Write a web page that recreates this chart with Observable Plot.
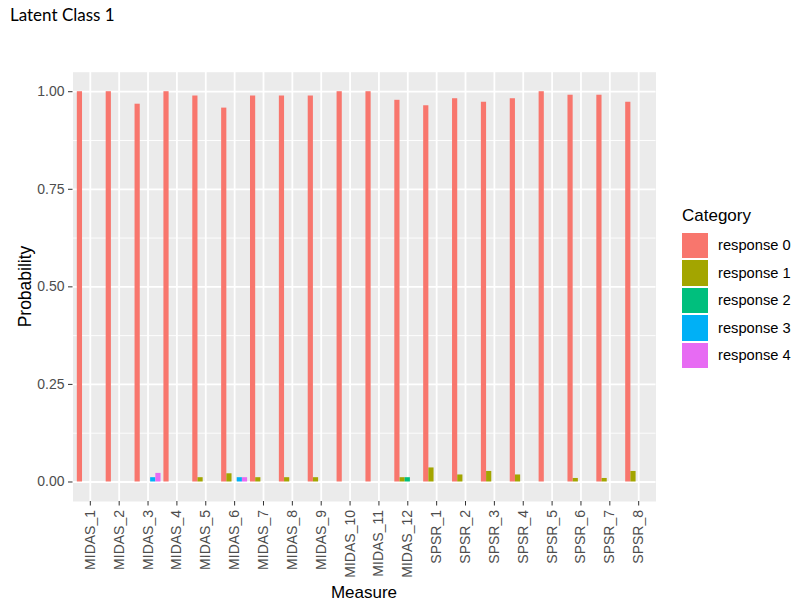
<!DOCTYPE html>
<html>
<head>
<meta charset="utf-8">
<script src="https://cdn.jsdelivr.net/npm/d3@7"></script>
<script src="https://cdn.jsdelivr.net/npm/@observablehq/plot@0.6"></script>
<style>
  html, body { margin: 0; padding: 0; background: #ffffff; }
  #wrap { position: relative; width: 800px; height: 605px; overflow: hidden; font-family: "Liberation Sans", Arial, sans-serif; }
  #wrap svg { position: absolute; left: 0; top: 0; }
  .abs { position: absolute; line-height: 1; white-space: nowrap; }
</style>
</head>
<body>
<div id="wrap"></div>
<script>
// ---------------- data ----------------
const measures = ["MIDAS_1","MIDAS_2","MIDAS_3","MIDAS_4","MIDAS_5","MIDAS_6","MIDAS_7","MIDAS_8","MIDAS_9","MIDAS_10","MIDAS_11","MIDAS_12",
                  "SPSR_1","SPSR_2","SPSR_3","SPSR_4","SPSR_5","SPSR_6","SPSR_7","SPSR_8"];
const categories = ["response 0","response 1","response 2","response 3","response 4"];
const colors = ["#F8766D","#A3A500","#00BF7D","#00B0F6","#E76BF3"];

const response0 = [1.000, 1.000, 0.968, 1.000, 0.989, 0.958, 0.989, 0.989, 0.989, 1.000, 1.000, 0.978, 0.964, 0.982, 0.973, 0.982, 1.000, 0.991, 0.991, 0.973];
const response1 = [0, 0, 0, 0, 0.011, 0.021, 0.011, 0.011, 0.011, 0, 0, 0.011, 0.036, 0.018, 0.027, 0.018, 0, 0.009, 0.009, 0.027];
const response2 = [0, 0, 0, 0, 0, 0, 0, 0, 0, 0, 0, 0.011, 0, 0, 0, 0, 0, 0, 0, 0];
const response3 = [0, 0, 0.011, 0, 0, 0.011, 0, 0, 0, 0, 0, 0, 0, 0, 0, 0, 0, 0, 0, 0];
const response4 = [0, 0, 0.022, 0, 0, 0.011, 0, 0, 0, 0, 0, 0, 0, 0, 0, 0, 0, 0, 0, 0];

const yTicks = [0, 0.25, 0.5, 0.75, 1];
const yMinor = [0.125, 0.375, 0.625, 0.875];

const titleText = "Latent Class 1";
const xTitle = "Measure";
const yTitle = "Probability";
const legendTitle = "Category";

// ---------------- table ----------------
const series = [response0, response1, response2, response3, response4];
const positions = measures.map((m, i) => i + 1);
const dodge = 0.9 / categories.length;
const rows = [];
measures.forEach((m, i) => {
  categories.forEach((c, k) => {
    const v = series[k][i];
    if (v > 0) rows.push({measure: m, pos: i + 1, k, category: c, value: v});
  });
});

// ---------------- chart ----------------
const chart = Plot.plot({
  width: 800,
  height: 605,
  marginLeft: 72.5,
  marginRight: 144.5,
  marginTop: 71.7,
  marginBottom: 104,
  x: {type: "linear", domain: [0.4, 20.6]},
  y: {domain: [-0.05, 1.05]},
  color: {domain: categories, range: colors},
  style: {fontFamily: "'Liberation Sans', Arial, sans-serif", background: "transparent", overflow: "visible"},
  marks: [
    Plot.frame({fill: "#EBEBEB", stroke: null}),
    Plot.ruleY(yMinor, {stroke: "#FFFFFF", strokeWidth: 0.9}),
    Plot.ruleY(yTicks, {stroke: "#FFFFFF", strokeWidth: 1.8}),
    Plot.ruleX(positions, {stroke: "#FFFFFF", strokeWidth: 1.8}),
    Plot.rectY(rows, {
      x1: d => d.pos - 0.45 + d.k * dodge,
      x2: d => d.pos - 0.45 + (d.k + 1) * dodge,
      y1: 0,
      y2: "value",
      fill: "category"
    }),
    Plot.axisY({ticks: yTicks, tickFormat: d3.format(".2f"), tickSize: 4.5, tickPadding: 4,
                stroke: "#333333", fill: "#4D4D4D", fontSize: 14, label: null}),
    Plot.axisX({ticks: positions, tickFormat: d => measures[d - 1], tickRotate: -90, tickSize: 4.5, tickPadding: 4,
                stroke: "#333333", fill: "#4D4D4D", fontSize: 14, label: null})
  ]
});

const wrap = document.getElementById("wrap");
wrap.appendChild(chart);

function addText(txt, css) {
  const d = document.createElement("div");
  d.className = "abs";
  d.textContent = txt;
  Object.assign(d.style, css);
  wrap.appendChild(d);
  return d;
}

// title
addText(titleText, {left: "10px", top: "6px", fontFamily: "Lato, 'Open Sans', sans-serif", fontSize: "17px", color: "#000"});
// axis titles
addText(xTitle, {left: "264px", width: "200px", textAlign: "center", top: "583.7px", fontSize: "17px", color: "#000"});
addText(yTitle, {left: "-75px", width: "200px", textAlign: "center", top: "277.5px", fontSize: "17.5px", color: "#000",
                 transform: "rotate(-90deg)", transformOrigin: "100px 8.5px"});

// legend
addText(legendTitle, {left: "682px", top: "207.3px", fontSize: "17px", color: "#000"});
categories.forEach((c, k) => {
  const top = 231.75 + k * 27.5;
  const key = document.createElement("div");
  Object.assign(key.style, {position: "absolute", left: "681.7px", top: (top + 0.95) + "px", width: "26.6px", height: "25.6px", background: colors[k]});
  wrap.appendChild(key);
  addText(c, {left: "718px", top: (top + 13.75 - 7.3) + "px", fontSize: "14.7px", color: "#000"});
});
</script>
</body>
</html>
